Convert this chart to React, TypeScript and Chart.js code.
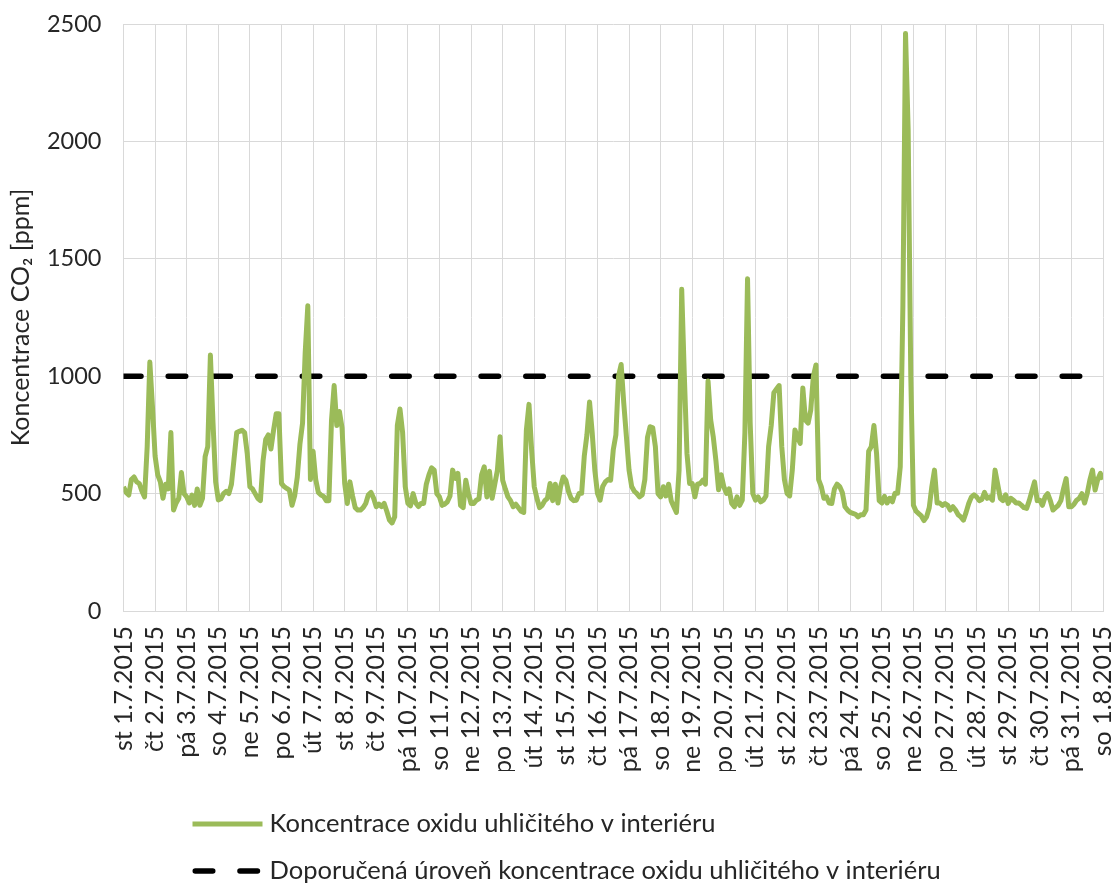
import React, { useEffect, useRef } from 'react';
import { Chart, registerables } from 'chart.js';

Chart.register(...registerables);

// X-axis day labels (one tick per day, midnight)
const dayLabels = [
  'st 1.7.2015', 'čt 2.7.2015', 'pá 3.7.2015', 'so 4.7.2015', 'ne 5.7.2015', 'po 6.7.2015',
  'út 7.7.2015', 'st 8.7.2015', 'čt 9.7.2015', 'pá 10.7.2015', 'so 11.7.2015', 'ne 12.7.2015',
  'po 13.7.2015', 'út 14.7.2015', 'st 15.7.2015', 'čt 16.7.2015', 'pá 17.7.2015', 'so 18.7.2015',
  'ne 19.7.2015', 'po 20.7.2015', 'út 21.7.2015', 'st 22.7.2015', 'čt 23.7.2015', 'pá 24.7.2015',
  'so 25.7.2015', 'ne 26.7.2015', 'po 27.7.2015', 'út 28.7.2015', 'st 29.7.2015', 'čt 30.7.2015',
  'pá 31.7.2015', 'so 1.8.2015',
];

// CO2 readings every 2 hours (12 per day), ppm
const co2Week1 = [
  529, 505, 494, 560, 571, 550, 543, 510, 486, 700, 1060, 870, // st 1.7
  660, 580, 550, 480, 540, 520, 760, 430, 460, 480, 590, 500, // čt 2.7
  486, 460, 494, 450, 520, 450, 480, 657, 700, 1090, 800, 550, // pá 3.7
  473, 478, 500, 510, 500, 540, 650, 760, 765, 770, 760, 670, // so 4.7
  529, 520, 500, 480, 470, 640, 730, 750, 690, 770, 840, 840, // ne 5.7
  543, 530, 522, 515, 450, 490, 570, 710, 800, 1100, 1300, 560, // po 6.7
  680, 560, 505, 494, 488, 470, 470, 813, 960, 790, 850, 780, // út 7.7
];
const co2Week2 = [
  543, 458, 550, 490, 440, 430, 430, 440, 458, 495, 505, 480, // st 8.7
  444, 455, 445, 458, 425, 387, 375, 401, 790, 860, 760, 530, // čt 9.7
  458, 448, 500, 460, 445, 458, 458, 540, 580, 610, 600, 500, // pá 10.7
  486, 450, 455, 465, 490, 600, 565, 586, 450, 440, 557, 500, // so 11.7
  458, 458, 472, 478, 580, 614, 486, 595, 480, 540, 600, 742, // ne 12.7
  557, 520, 486, 470, 444, 455, 440, 425, 420, 770, 880, 686, // po 13.7
  529, 480, 440, 450, 470, 480, 543, 470, 540, 460, 530, 571, // út 14.7
];
const co2Week3 = [
  557, 510, 480, 470, 472, 500, 501, 660, 750, 890, 760, 600, // st 15.7
  501, 472, 530, 550, 560, 557, 686, 750, 1000, 1050, 884, 742, // čt 16.7
  600, 530, 510, 500, 486, 495, 560, 740, 785, 780, 700, 500, // pá 17.7
  486, 529, 490, 540, 470, 444, 420, 600, 1370, 1000, 671, 543, // so 18.7
  543, 486, 540, 543, 557, 540, 980, 814, 740, 640, 516, 580, // ne 19.7
  529, 501, 520, 458, 444, 486, 450, 472, 760, 1415, 800, 500, // po 20.7
  472, 486, 465, 472, 490, 700, 790, 930, 945, 960, 700, 560, // út 21.7
];
const co2Week4 = [
  501, 490, 600, 771, 740, 714, 950, 813, 800, 855, 1000, 1048, // st 22.7
  560, 530, 480, 486, 460, 458, 520, 540, 530, 505, 444, 430, // čt 23.7
  420, 416, 412, 401, 410, 410, 430, 680, 700, 790, 671, 470, // pá 24.7
  460, 488, 460, 480, 465, 501, 501, 614, 1300, 2460, 2050, 1000, // so 25.7
  450, 425, 415, 405, 385, 401, 440, 530, 600, 460, 460, 450, // ne 26.7
  458, 450, 430, 444, 430, 410, 401, 387, 420, 458, 485, 495, // po 27.7
  486, 470, 475, 505, 480, 486, 472, 600, 540, 480, 470, 495, // út 28.7
];
const co2Week5 = [
  458, 480, 472, 460, 460, 451, 440, 437, 470, 510, 550, 470, // st 29.7
  472, 450, 486, 500, 470, 430, 440, 450, 470, 520, 564, 444, // čt 30.7
  444, 455, 472, 480, 500, 460, 500, 557, 600, 515, 560, 586, // pá 31.7
  560, // so 1.8 00:00
];

const samplesPerDay = 12;
const recommendedLevel = 1000;
const yTicks = [0, 500, 1000, 1500, 2000, 2500];

const seriesLabel = 'Koncentrace oxidu uhličitého v interiéru';
const limitLabel = 'Doporučená úroveň koncentrace oxidu uhličitého v interiéru';
const yTitle = 'Koncentrace CO₂ [ppm]';

const FONT = 'Lato, "Open Sans", sans-serif';
const TEXT = '#262626';
const GREEN = '#9BBB59';

const zeroPadding = (s: any) => {
  s.paddingLeft = 0;
  s.paddingRight = 0;
  s.paddingTop = 0;
  s.paddingBottom = 0;
};

const stackedLegend = {
  id: 'stackedLegend',
  afterDraw(chart: any) {
    const { ctx, chartArea } = chart;
    const x0 = chartArea.left + 69;
    const rowsY = [chartArea.bottom + 213, chartArea.bottom + 260];
    chart.data.datasets.forEach((d: any, i: number) => {
      const y = rowsY[i];
      ctx.save();
      ctx.strokeStyle = d.borderColor;
      ctx.lineWidth = d.borderWidth;
      if (d.borderDash) {
        ctx.setLineDash(d.borderDash);
        ctx.lineCap = 'round';
        ctx.beginPath();
        ctx.moveTo(x0 + d.borderWidth / 2, y);
        ctx.lineTo(x0 + 70, y);
        ctx.stroke();
      } else {
        ctx.lineCap = 'butt';
        ctx.beginPath();
        ctx.moveTo(x0, y);
        ctx.lineTo(x0 + 70, y);
        ctx.stroke();
      }
      ctx.setLineDash([]);
      ctx.fillStyle = TEXT;
      ctx.font = `25.5px ${FONT}`;
      ctx.textBaseline = 'middle';
      ctx.textAlign = 'left';
      ctx.fillText(d.label, x0 + 77, y);
      ctx.restore();
    });
  },
};

export default function App() {
  const canvasRef = useRef<HTMLCanvasElement | null>(null);

  useEffect(() => {
    const co2 = [...co2Week1, ...co2Week2, ...co2Week3, ...co2Week4, ...co2Week5];
    const seriesPoints = co2.map((v, i) => ({ x: i / samplesPerDay, y: v }));
    const lastDay = dayLabels.length - 1;
    const limitPoints = [
      { x: 0, y: recommendedLevel },
      { x: lastDay, y: recommendedLevel },
    ];

    const chart = new Chart(canvasRef.current as HTMLCanvasElement, {
      type: 'line',
      data: {
        datasets: [
          {
            label: seriesLabel,
            data: seriesPoints,
            borderColor: GREEN,
            backgroundColor: GREEN,
            borderWidth: 5,
            pointRadius: 0,
            tension: 0,
            borderJoinStyle: 'round',
          },
          {
            label: limitLabel,
            data: limitPoints,
            borderColor: '#000000',
            backgroundColor: '#000000',
            borderWidth: 5.5,
            borderDash: [17.5, 27.2],
            borderCapStyle: 'round',
            pointRadius: 0,
          },
        ],
      },
      options: {
        animation: false,
        responsive: true,
        maintainAspectRatio: false,
        layout: { padding: { left: 0, right: 12, top: 24, bottom: 114 } },
        plugins: {
          legend: { display: false },
          tooltip: { enabled: false },
        },
        scales: {
          x: {
            type: 'linear',
            min: 0,
            max: lastDay,
            afterFit: (s: any) => { s.height = 160; zeroPadding(s); },
            afterBuildTicks: (s: any) => {
              s.ticks = dayLabels.map((_, i) => ({ value: i }));
            },
            grid: { color: '#d9d9d9', lineWidth: 1, drawTicks: false },
            border: { color: '#d9d9d9' },
            ticks: {
              autoSkip: false,
              maxRotation: 90,
              minRotation: 90,
              padding: 15,
              color: TEXT,
              font: { family: FONT, size: 25 },
              callback: (v: any) => dayLabels[v] ?? '',
            },
          },
          y: {
            min: 0,
            max: 2500,
            afterFit: (s: any) => { s.width = 123.5; zeroPadding(s); },
            afterBuildTicks: (s: any) => {
              s.ticks = yTicks.map((v) => ({ value: v }));
            },
            grid: { color: '#d9d9d9', lineWidth: 1, drawTicks: false },
            border: { color: '#d9d9d9' },
            ticks: {
              padding: 22,
              color: TEXT,
              font: { family: FONT, size: 23.5 },
              callback: (v: any) => String(v),
            },
            title: {
              display: true,
              text: yTitle,
              color: TEXT,
              font: { family: FONT, size: 25 },
              padding: { top: 6, bottom: 0 },
            },
          },
        },
      },
      plugins: [stackedLegend],
    });

    return () => chart.destroy();
  }, []);

  return (
    <div style={{ position: 'fixed', left: 0, top: 0, width: 1115, height: 885, background: '#fff' }}>
      <canvas ref={canvasRef} />
    </div>
  );
}
